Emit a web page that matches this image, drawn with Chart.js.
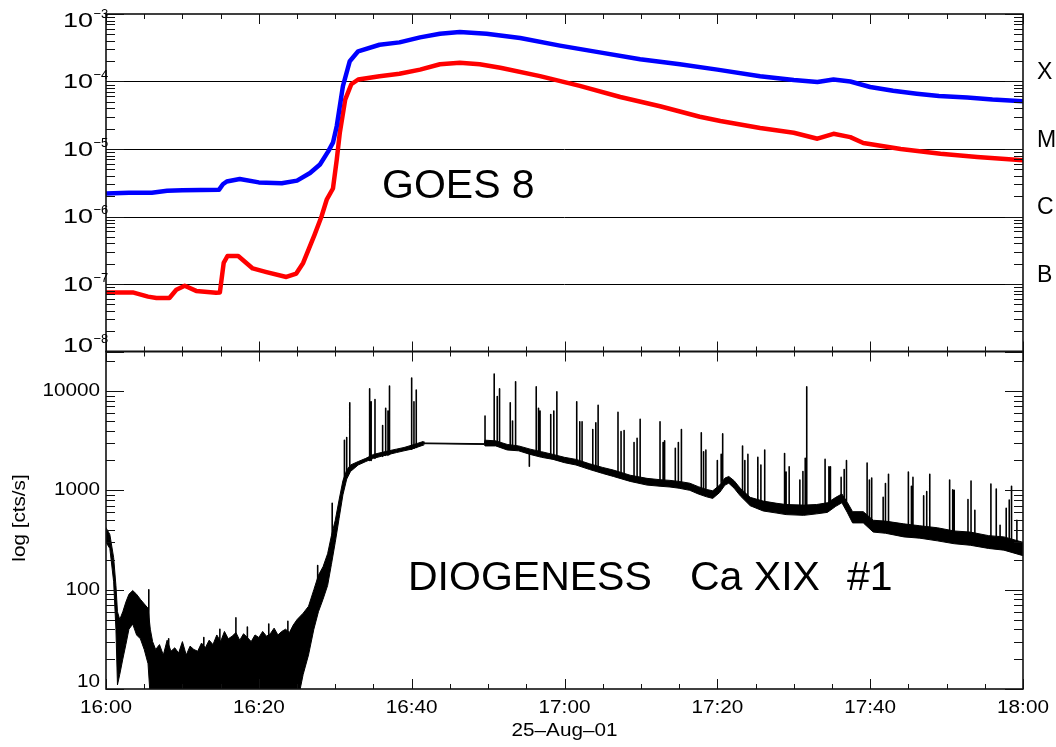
<!DOCTYPE html>
<html>
<head>
<meta charset="utf-8">
<title>GOES 8 / DIOGENESS Ca XIX</title>
<script src="https://cdn.jsdelivr.net/npm/chart.js@4/dist/chart.umd.min.js"></script>
<style>
  html, body { margin: 0; padding: 0; background: #fff; }
  #wrap { width: 1056px; height: 747px; }
</style>
</head>
<body>
<div id="wrap"><canvas id="chart"></canvas></div>
<script>
'use strict';

// time axis: minutes after 16:00 UT, 25 Aug 2001
const xTickMinutes = [0, 20, 40, 60, 80, 100, 120];
const xTickLabels = ['16:00', '16:20', '16:40', '17:00', '17:20', '17:40', '18:00'];
const dateLabel = '25\u2013Aug\u201301';

// GOES 8, 1-8 A channel (blue)
const longTime = [0, 3, 6, 8, 10, 14.8, 15.3, 15.8, 17.5, 20, 23, 25, 26.7, 28, 29.1, 29.7, 30.2, 31.0, 31.9,
  32.5, 33, 35.8, 38.4, 41.1, 43.7, 46.3, 49.8, 54.2, 59.4, 64.6, 69.9, 75.1, 80, 85.6, 90, 93.1, 95.2,
  97.4, 100, 103, 106.1, 109, 112.7, 116, 120];
const longFlux = [2.2e-6, 2.25e-6, 2.25e-6, 2.4e-6, 2.45e-6, 2.5e-6, 3.0e-6, 3.3e-6, 3.6e-6, 3.2e-6, 3.1e-6,
  3.4e-6, 4.4e-6, 5.9e-6, 9.3e-6, 1.24e-5, 2.2e-5, 8.5e-5, 2.0e-4, 2.4e-4, 2.8e-4, 3.5e-4, 3.8e-4, 4.5e-4,
  5.1e-4, 5.4e-4, 5.1e-4, 4.4e-4, 3.4e-4, 2.7e-4, 2.14e-4, 1.8e-4, 1.5e-4, 1.2e-4, 1.05e-4, 9.8e-5,
  1.07e-4, 1.0e-4, 8.3e-5, 7.3e-5, 6.6e-5, 6.1e-5, 5.8e-5, 5.4e-5, 5.1e-5];

// GOES 8, 0.5-4 A channel (red)
const shortTime = [0, 3.5, 5.5, 6.6, 8.3, 9.2, 10.3, 11.8, 14.4, 14.9, 15.4, 15.9, 17.3, 19.2, 21, 23.6, 24.9,
  25.8, 27.3, 28.2, 28.9, 29.7, 30.2, 30.6, 31.3, 32.1, 33, 35.8, 38.4, 41.1, 43.7, 46.3, 48.9, 51.6, 56.8,
  62, 67.3, 72.5, 77.7, 80.4, 85.6, 90, 93.1, 95.2, 97.4, 99.1, 104, 109.2, 114, 120];
const shortFlux = [7.5e-8, 7.5e-8, 6.5e-8, 6.2e-8, 6.2e-8, 8.2e-8, 9.4e-8, 7.9e-8, 7.4e-8, 7.5e-8, 2.05e-7,
  2.6e-7, 2.6e-7, 1.7e-7, 1.5e-7, 1.27e-7, 1.43e-7, 2.05e-7, 5.4e-7, 1.0e-6, 1.8e-6, 2.6e-6, 7e-6, 1.75e-5,
  5.4e-5, 9.1e-5, 1.07e-4, 1.2e-4, 1.3e-4, 1.5e-4, 1.8e-4, 1.9e-4, 1.8e-4, 1.6e-4, 1.2e-4, 8.6e-5, 5.9e-5,
  4.3e-5, 3.0e-5, 2.6e-5, 2.05e-5, 1.74e-5, 1.42e-5, 1.68e-5, 1.5e-5, 1.23e-5, 1.0e-5, 8.5e-6, 7.6e-6, 6.8e-6];

// GOES flare classes
const classLabels = ['X', 'M', 'C', 'B'];
const classLevels = [1e-4, 1e-5, 1e-6, 1e-7];

// DIOGENESS Ca XIX #1, count-rate envelope (lower / upper edge of the noisy trace)
const dioTime = [0, 0.5, 1.0, 1.3, 1.5, 1.8, 2.2, 2.6, 3.0, 3.5, 4.0, 4.5, 5.0, 5.5, 5.8,
  6.1, 6.5, 7, 7.5, 8, 8.5, 9, 9.5, 10, 10.5, 11, 11.5, 12, 12.5, 13, 13.5, 14, 14.5, 15, 15.5,
  16, 16.5, 17, 17.5, 18, 18.5, 19, 19.5, 20, 20.5, 21, 21.5, 22, 22.5, 23, 23.5, 24, 24.5, 25,
  25.8, 26.5, 27.2, 27.8, 28.4, 29.0, 29.5, 30.0, 30.5, 31.0, 31.5, 32.0, 33, 34, 35, 36, 37, 38,
  39, 40, 41.5, 41.6, 49.5, 49.6, 51, 52.5, 54, 55.5, 57, 58.5, 60, 61.5, 63.3, 65, 66.4, 68.6,
  70.8, 72.5, 73.8, 75, 76.4, 77.5, 78.6, 79.4, 80.3, 81.0, 81.5, 82.2, 83.0, 84.3, 86, 87.8, 89,
  91.3, 93, 94.4, 95.5, 96.3, 97, 97.7, 99.1, 100.4, 102, 104.4, 106.5, 108.8, 111, 113.1, 115.5,
  117.5, 120];
const dioLow = [300, 260, 120, 40, 11, 14, 20, 28, 40, 45, 35, 32, 25, 18, 8,
  5, 5, 5, 5, 5, 5, 5, 5, 5, 5, 5, 5, 5, 5, 5, 5, 5, 5, 5, 5,
  5, 5, 5, 5, 5, 5, 5, 5, 5, 5, 5, 5, 5, 5, 5, 5, 5, 5, 7,
  14, 22, 40, 60, 80, 110, 180, 300, 520, 900, 1300, 1550, 1800, 1950, 2100, 2200, 2300, 2400,
  2500, 2600, 2850, 2950, 2900, 2800, 2800, 2550, 2500, 2300, 2150, 2050, 1900, 1800, 1620, 1480, 1380, 1230,
  1130, 1100, 1080, 1050, 1000, 920, 860, 830, 950, 1130, 1180, 1050, 880, 700, 620, 590, 570,
  560, 580, 600, 690, 750, 600, 470, 470, 380, 370, 340, 330, 310, 290, 280, 260,
  250, 220];
const dioHigh = [420, 360, 210, 110, 60, 50, 60, 75, 90, 98, 90, 80, 72, 65, 40,
  30, 25, 28, 22, 31, 24, 26, 23, 30, 22, 27, 25, 24, 29, 26, 31, 28, 35, 30, 38,
  32, 34, 37, 31, 36, 33, 30, 35, 33, 38, 34, 36, 41, 35, 38, 40, 37, 44, 50,
  58, 68, 100, 140, 170, 230, 350, 500, 800, 1250, 1600, 1800, 1950, 2100, 2300, 2400, 2500, 2600,
  2700, 2850, 3100, 3000, 2950, 3200, 3150, 2900, 2800, 2600, 2450, 2300, 2150, 2050, 1850, 1700, 1600, 1420,
  1320, 1280, 1260, 1230, 1180, 1090, 1020, 990, 1130, 1330, 1380, 1250, 1050, 850, 780, 740, 720,
  710, 720, 750, 850, 920, 760, 610, 610, 500, 490, 460, 440, 420, 390, 380, 350,
  340, 300];

// short spikes on top of the DIOGENESS trace: time, level they rise from, peak
const spikeTime = [5.6, 8.2, 12.8, 14.9, 17.0, 18.5, 21.3, 23.8, 27.7, 29.6, 31.2, 31.5, 31.9, 34.5, 34.7, 35.2,
  36.2, 36.6, 36.9, 37.1, 40.0, 40.3, 40.6,
  49.6, 50.8, 51.2, 51.5, 52.9, 53.2, 53.6, 55.4, 56.3, 56.6, 56.8, 58.2, 58.6, 59.0, 61.6, 62.0, 62.3, 63.7,
  64.1, 64.4, 67.0, 67.4, 67.8, 69.1, 69.5, 69.9, 72.5, 72.9, 73.1, 74.5, 74.9, 75.3, 77.9, 78.2, 78.5, 80.0,
  80.5, 80.7, 83.3, 83.6, 84.0, 85.3, 85.7, 86.2, 88.8, 89.0, 89.4, 90.8, 91.2, 91.5, 91.7, 94.1, 94.6, 94.8,
  96.2, 96.6, 96.9, 99.6, 99.9, 100.2, 101.7, 102.0, 102.4, 105.0, 105.4, 105.6, 107.0, 107.4, 107.8, 110.4,
  110.8, 111.0, 112.8, 113.2, 113.7, 115.8, 116.5, 117.0, 117.8, 118.2, 118.5, 119.2];
const spikeBase = [40, 20, 20, 20, 20, 25, 25, 30, 90, 300, 1200, 1400, 1650, 2000, 2000, 2100,
  2200, 2250, 2250, 2300, 2600, 2650, 2700,
  2950, 3000, 3000, 2950, 2800, 2800, 2750, 2500, 2400, 2400, 2400, 2250, 2200, 2150, 1950, 1950, 1900, 1800,
  1750, 1750, 1500, 1450, 1450, 1350, 1350, 1300, 1250, 1250, 1250, 1200, 1200, 1200, 1000, 950, 950, 1050,
  1200, 1250, 900, 850, 800, 720, 720, 700, 660, 660, 650, 640, 640, 640, 640, 680, 700, 700,
  830, 820, 780, 540, 530, 500, 440, 440, 430, 400, 400, 400, 380, 380, 380, 350,
  350, 350, 330, 330, 330, 310, 300, 300, 290, 290, 280, 270];
const spikePeak = [100, 32, 33, 40, 52, 42, 45, 48, 175, 740, 3200, 3400, 7600, 10500, 7800, 8200,
  4500, 6700, 6300, 11200, 13500, 7800, 10200,
  5600, 14800, 8800, 10500, 7600, 5000, 12400, 1750, 11000, 6700, 6300, 5800, 6300, 9800, 7800, 4900, 4900, 4100,
  4800, 7200, 6100, 3900, 4000, 3030, 3340, 5200, 4900, 3030, 3150, 2650, 3030, 4100, 3800, 2450, 2550, 2000,
  2300, 3700, 2800, 2000, 2300, 2150, 1800, 2550, 2350, 1530, 1730, 1270, 1550, 2100, 11000, 2050, 1730, 1730,
  1350, 1620, 1990, 1880, 1270, 1330, 850, 1170, 1450, 1530, 1100, 1350, 880, 970, 1450, 1270,
  1010, 1000, 810, 1240, 630, 1160, 1030, 445, 660, 800, 1100, 500];

const topExponents = [-3, -4, -5, -6, -7, -8];
const bottomTickValues = [10, 100, 1000, 10000];

const FONT = '"Liberation Sans", Arial, Helvetica, sans-serif';

function toPoints(xs, ys) {
  return xs.map((t, i) => ({ x: t, y: ys[i] }));
}

function spikePoints() {
  const pts = [];
  spikeTime.forEach((t, i) => {
    pts.push({ x: t, y: spikeBase[i] }, { x: t, y: spikePeak[i] }, { x: t, y: null });
  });
  return pts;
}

function drawText(ctx, text, x, y, size, align, stretch) {
  ctx.save();
  ctx.font = size + 'px ' + FONT;
  ctx.fillStyle = '#000';
  ctx.textAlign = align;
  ctx.textBaseline = 'middle';
  ctx.translate(x, y);
  ctx.scale(stretch || 1, 1);
  ctx.fillText(text, 0, 0);
  ctx.restore();
}

function hLine(ctx, x0, x1, y) {
  ctx.beginPath();
  ctx.moveTo(x0, y);
  ctx.lineTo(x1, y);
  ctx.stroke();
}

function vLine(ctx, x, y0, y1) {
  ctx.beginPath();
  ctx.moveTo(x, y0);
  ctx.lineTo(x, y1);
  ctx.stroke();
}

// 1..9 x 10^e positions inside [min, max]
function logTickValues(min, max) {
  const out = [];
  for (let e = Math.floor(Math.log10(min)); e <= Math.ceil(Math.log10(max)); e++) {
    for (let m = 1; m <= 9; m++) {
      const v = Number(m + 'e' + e);
      if (v >= min * 0.999 && v <= max * 1.001) out.push({ v, major: m === 1 });
    }
  }
  return out;
}

const panelFrame = {
  id: 'panelFrame',
  beforeDatasetsDraw(chart) {
    const { ctx, chartArea: a, scales } = chart;
    ctx.save();
    ctx.strokeStyle = '#000';
    ctx.lineWidth = 1;
    classLevels.forEach(v => {
      hLine(ctx, a.left, a.right, Math.round(scales.yTop.getPixelForValue(v)) + 0.5);
    });
    ctx.restore();
  },
  afterDraw(chart) {
    const { ctx, chartArea: a, scales } = chart;
    const x = scales.x;
    ctx.save();
    ctx.strokeStyle = '#111';
    ctx.lineWidth = 1;

    [scales.yTop, scales.yBot].forEach(s => {
      // y ticks on both sides, pointing inwards
      logTickValues(s.min, s.max).forEach(t => {
        const y = Math.round(s.getPixelForValue(t.v)) + 0.5;
        const len = t.major ? 18 : 9;
        hLine(ctx, a.left, a.left + len, y);
        hLine(ctx, a.right - len, a.right, y);
      });
      // x ticks every 5 minutes on top and bottom of each panel
      for (let m = 0; m <= 120; m += 5) {
        const px = Math.round(x.getPixelForValue(m)) + 0.5;
        const len = m % 20 === 0 ? 10 : 5;
        vLine(ctx, px, s.top, s.top + len);
        vLine(ctx, px, s.bottom - len, s.bottom);
      }
      ctx.lineWidth = 1.6;
      ctx.strokeRect(a.left, s.top, a.right - a.left, s.bottom - s.top);
      ctx.lineWidth = 1;
    });

    // top panel: 10^n labels
    topExponents.forEach(e => {
      let y = scales.yTop.getPixelForValue(Number('1e' + e));
      if (e === -3) y += 6;
      if (e === -8) y -= 6;
      drawText(ctx, '10', 93, y + 1, 20, 'right', 1.35);
      drawText(ctx, '\u2212' + Math.abs(e), 93.5, y - 6, 13, 'left', 1.0);
    });

    // GOES classes on the right
    classLabels.forEach((c, i) => {
      drawText(ctx, c, 1037, scales.yTop.getPixelForValue(classLevels[i]) - 8.5, 23, 'left', 1);
    });

    // bottom panel labels
    bottomTickValues.forEach(v => {
      let y = scales.yBot.getPixelForValue(v);
      if (v === 10) y -= 7;
      drawText(ctx, String(v), 100, y, 18, 'right', 1.15);
    });

    xTickMinutes.forEach((m, i) => {
      drawText(ctx, xTickLabels[i], x.getPixelForValue(m), 708, 18, 'center', 1.15);
    });
    drawText(ctx, dateLabel, x.getPixelForValue(60), 731, 18, 'center', 1.15);

    ctx.save();
    ctx.translate(20, 518);
    ctx.rotate(-Math.PI / 2);
    drawText(ctx, 'log [cts/s]', 0, 0, 18, 'center', 1.15);
    ctx.restore();

    ctx.font = '41px ' + FONT;
    ctx.fillStyle = '#000';
    ctx.textAlign = 'left';
    ctx.textBaseline = 'alphabetic';
    ctx.fillText('GOES 8', 382, 198);
    ctx.fillText('DIOGENESS', 408, 590);
    ctx.fillText('Ca XIX', 690, 590);
    ctx.fillText('#1', 847, 590);
    ctx.restore();
  }
};

function onContentLoad() {
  const canvas = document.getElementById('chart');
  new Chart(canvas.getContext('2d'), {
    type: 'line',
    data: {
      datasets: [
        {
          data: toPoints(dioTime, dioLow), yAxisID: 'yBot',
          borderColor: '#000', borderWidth: 1, fill: false
        },
        {
          data: toPoints(dioTime, dioHigh), yAxisID: 'yBot',
          borderColor: '#000', borderWidth: 1, backgroundColor: '#000', fill: '-1'
        },
        {
          data: spikePoints(), yAxisID: 'yBot',
          borderColor: '#000', borderWidth: 1.6, fill: false, spanGaps: false
        },
        {
          data: toPoints(longTime, longFlux), yAxisID: 'yTop',
          borderColor: '#0000ff', borderWidth: 4.5, fill: false
        },
        {
          data: toPoints(shortTime, shortFlux), yAxisID: 'yTop',
          borderColor: '#ff0000', borderWidth: 4.5, fill: false
        }
      ]
    },
    options: {
      responsive: true,
      maintainAspectRatio: false,
      animation: false,
      devicePixelRatio: 1,
      layout: { padding: { left: 106, right: 33, top: 14, bottom: 58 } },
      plugins: { legend: { display: false }, tooltip: { enabled: false } },
      elements: {
        point: { radius: 0 },
        line: { tension: 0, borderJoinStyle: 'round', borderCapStyle: 'round' }
      },
      scales: {
        x: { type: 'linear', min: 0, max: 120, display: false },
        yBot: {
          type: 'logarithmic', min: 10, max: 25000, display: false,
          stack: 'panels', stackWeight: 1
        },
        yTop: {
          type: 'logarithmic', min: 1e-8, max: 1e-3, display: false,
          stack: 'panels', stackWeight: 1
        }
      }
    },
    plugins: [panelFrame]
  });
}

document.addEventListener('DOMContentLoaded', onContentLoad);
</script>
</body>
</html>
